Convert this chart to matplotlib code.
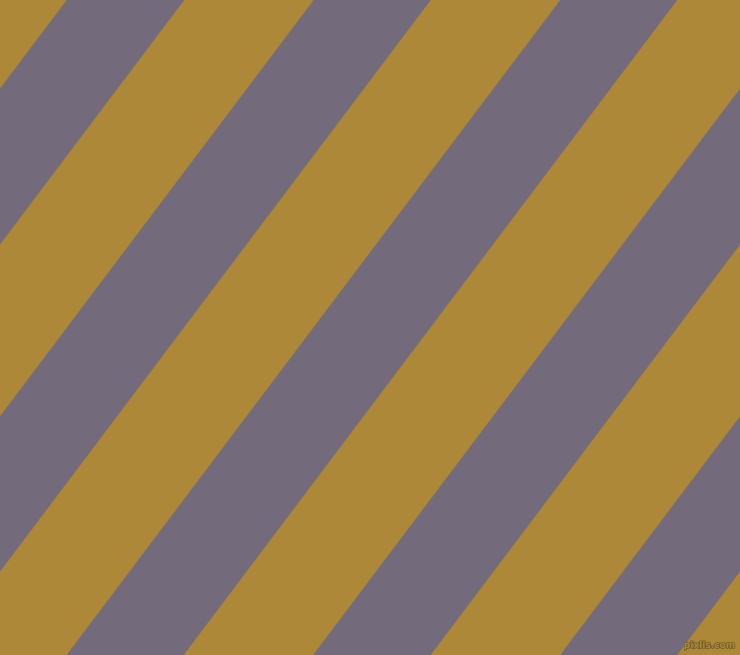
import matplotlib
matplotlib.use("Agg")
import matplotlib.pyplot as plt
import matplotlib.patheffects as pe

# stripe edges where they cross the top edge (pixels), left to right
edges = [-63, 67, 184, 314, 430.5, 560.5, 677, 807, 924, 1054, 1170.5, 1300.5]
colors = ["#ad8839", "#736b7b"]
lean = 0.7536  # x shift per pixel going down
W, H = 740, 655

fig = plt.figure(figsize=(7.4, 6.55), dpi=100)
fig.patch.set_facecolor(colors[0])
ax = fig.add_axes([0, 0, 1, 1])
ax.set_facecolor(colors[0])
ax.set_xlim(0, W)
ax.set_ylim(H, 0)
ax.axis("off")

shift = H * lean
# gold is the background, only the gray bands get drawn
for i in range(1, len(edges) - 1, 2):
    a = edges[i]
    b = edges[i + 1]
    ax.fill([a, b, b - shift, a - shift], [0, 0, H, H],
            facecolor=colors[1], edgecolor=colors[1], lw=0.3)

ax.text(735, 650, "pixlis.com", ha="right", va="bottom", fontsize=6.5,
        color="#ad8839", fontweight="bold",
        path_effects=[pe.withStroke(linewidth=1, foreground="#6e5a2a")])

fig.savefig("out.png", dpi=100, facecolor=colors[0])
